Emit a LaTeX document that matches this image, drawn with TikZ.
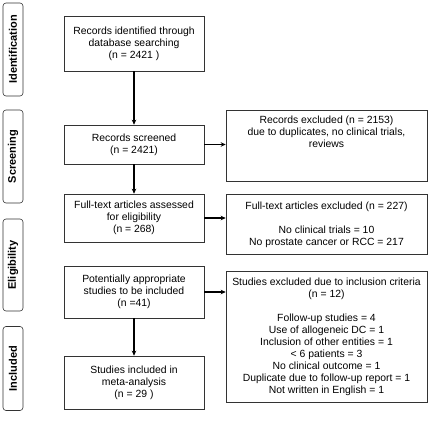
\documentclass[tikz,border=0pt]{standalone}
\usepackage{fontspec}
\setmainfont{Liberation Sans}
\usetikzlibrary{positioning}
\usetikzlibrary{arrows.meta}

\tikzset{
  flowbox/.style={draw=black!80, line width=0.6pt, align=center, inner sep=0pt,
    minimum width=140pt, font=\fontsize{10.4}{12}\selectfont},
  sidebox/.style={flowbox, minimum width=201pt},
  stagebox/.style={draw=black!80, line width=0.6pt, rounded corners=3pt, rotate=90,
    inner sep=0pt, minimum height=20pt, font=\fontsize{11}{13}\selectfont\bfseries},
  flowarrow/.style={line width=1.6pt, -{Stealth[length=5pt,width=4.5pt]}}
}

\begin{document}
\begin{tikzpicture}[x=1pt,y=-1pt]

\useasboundingbox (0,0) rectangle (430,422);

% stages
\node[stagebox, minimum width=93pt] (sident) at (13,49.5) {Identification};
\node[stagebox, minimum width=93pt] (sscreen) at (13,156.5) {Screening};
\node[stagebox, minimum width=92pt] (selig) at (13,265) {Eligibility};
\node[stagebox, minimum width=84pt] (sincl) at (13,368.5) {Included};

% main column
\node[flowbox, minimum height=55pt] (ident) at (134,43.5)
  {Records identified through\\ database searching\\ (n = 2421 )};
\node[flowbox, minimum height=39pt] (screen) at (134,144.5)
  {Records screened\\ (n = 2421)};
\node[flowbox, minimum height=48pt] (fulltext) at (134,218)
  {Full-text articles assessed\\ for eligibility\\ (n = 268)};
\node[flowbox, minimum height=52pt] (potent) at (134,292)
  {Potentially appropriate\\ studies to be included\\ (n =41)};
\node[flowbox, minimum height=53pt] (incl) at (134,382.5)
  {Studies included in\\ meta-analysis\\ (n = 29 )};

% excluded column
\node[sidebox, minimum height=71pt] (exrec) at (326.5,145.5)
  {Records excluded (n = 2153)\\ due to duplicates, no clinical trials,\\ reviews\\ \strut\\ \strut};
\node[sidebox, minimum height=60pt] (exfull) at (326.5,224.5)
  {Full-text articles excluded (n = 227)\\ \strut\\ No clinical trials = 10\\ No prostate cancer or RCC = 217};
\node[sidebox, minimum height=131pt] (exstud) at (326.5,336.5)
  {Studies excluded due to inclusion criteria\\ (n = 12)\\ \strut\\
   Follow-up studies = 4\\ Use of allogeneic DC = 1\\ Inclusion of other entities = 1\\
   {\textless} 6 patients = 3\\ No clinical outcome = 1\\ Duplicate due to follow-up report = 1\\
   Not written in English = 1};

% arrows
\draw[flowarrow] (ident) -- (screen);
\draw[flowarrow] (screen) -- (fulltext);
\draw[flowarrow] (potent) -- (incl);
\draw[flowarrow] (screen.east) -- (screen.east -| exrec.west);
\draw[flowarrow] (fulltext.east) -- (fulltext.east -| exfull.west);
\draw[flowarrow] (potent.east) -- (potent.east -| exstud.west);

\end{tikzpicture}
\end{document}
